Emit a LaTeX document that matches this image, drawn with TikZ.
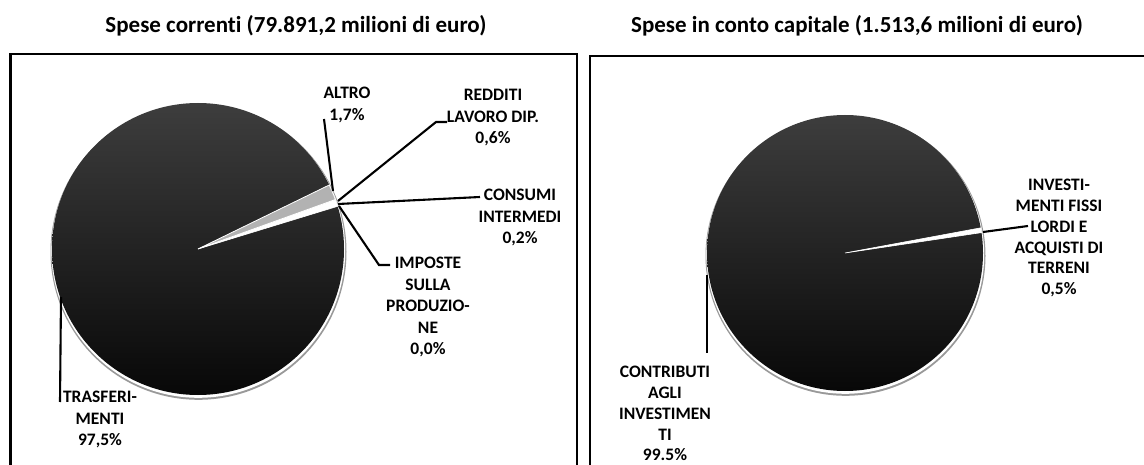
\documentclass[tikz,border=0pt]{standalone}
\usepackage{fontspec}
\setmainfont{Carlito}[Ligatures=NoCommon]
\begin{document}
\begin{tikzpicture}[x=1pt,y=-1pt,
  lbl/.style={font=\fontsize{17.5}{21.5}\selectfont\bfseries, align=center, inner sep=0pt, anchor=north},
  lblr/.style={font=\fontsize{17.5}{20.8}\selectfont\bfseries, align=center, inner sep=0pt, anchor=north},
  ttl/.style={font=\fontsize{23}{27}\selectfont\bfseries, inner sep=0pt, anchor=base},
  lead/.style={draw=black, line width=2.1pt},
  frame/.style={draw=black, line width=2pt},
  darkpie/.style={top color=black!76, bottom color=black!97},
  rimgray/.style={fill=black!40},
  slicew/.style={fill=white, draw=white, line width=0.6pt},
  sliceg/.style={fill=black!30, draw=white, line width=0.8pt}]
\useasboundingbox (0,0) rectangle (1144,465);

% titles
\node[ttl] (t1) at (296,33) {Spese correnti (79.891,2 milioni di euro)};
\node[ttl] (t2) at (857,33) {Spese in conto capitale (1.513,6 milioni di euro)};

% frames
\draw[frame] (10,54) rectangle (577,480);
\draw[line width=3pt] (10,54) -- (10,480);
\draw[frame] (590,56) rectangle (1160,480);

% left pie
\coordinate (L) at (198,249);
\fill[rimgray] (198.5,251.8) circle (148);
\fill[white] (198.3,250.9) circle (146.9);
\shade[darkpie] (L) circle (146);
\fill[slicew] (L) -- ++(-19.8:146) arc[start angle=-19.8, end angle=-17, radius=146] -- cycle;
\filldraw[sliceg] (L) -- ++(-26:146) arc[start angle=-26, end angle=-19.8, radius=146] -- cycle;

% right pie
\coordinate (R) at (845,253);
\fill[rimgray] (845.5,255.8) circle (140);
\fill[white] (845.3,254.9) circle (138.9);
\shade[darkpie] (R) circle (138);
\fill[slicew] (R) -- ++(-10.5:138) arc[start angle=-10.5, end angle=-8.5, radius=138] -- cycle;

% labels
\node[lbl] (altro) at (347,87) {ALTRO\\1,7\%};
\node[lbl] (redditi) at (493,89) {REDDITI\\LAVORO DIP.\\0,6\%};
\node[lbl] (consumi) at (520,189) {CONSUMI\\INTERMEDI\\0,2\%};
\node[lbl] (imposte) at (428,257) {IMPOSTE\\SULLA\\PRODUZIO-\\NE\\0,0\%};
\node[lbl] (trasf) at (100,391) {TRASFERI-\\MENTI\\97,5\%};
\node[lblr] (invest) at (1059,179) {INVESTI-\\MENTI FISSI\\LORDI E\\ACQUISTI DI\\TERRENI\\0,5\%};
\node[lblr] (contrib) at (665,366) {CONTRIBUTI\\AGLI\\INVESTIMEN\\TI\\99.5\%};

% leader lines
\coordinate (a1) at (324,119); \coordinate (a2) at (333,191);
\draw[lead] (a1) -- (a2);
\coordinate (r1) at (338,201); \coordinate (r2) at (436,122); \coordinate (r3) at (447,122);
\draw[lead] (r1) -- (r2) -- (r3);
\coordinate (c1) at (338,204); \coordinate (c2) at (480,197);
\draw[lead] (c1) -- (c2);
\coordinate (i1) at (339,206); \coordinate (i2) at (379,265); \coordinate (i3) at (390,265);
\draw[lead] (i1) -- (i2) -- (i3);
\coordinate (f1) at (61,297); \coordinate (f2) at (60,402);
\draw[lead] (f1) -- (f2);
\coordinate (v1) at (983,232); \coordinate (v2) at (1028,226);
\draw[lead] (v1) -- (v2);
\coordinate (k1) at (707,275); \coordinate (k2) at (707,353);
\draw[lead] (k1) -- (k2);
\end{tikzpicture}
\end{document}
